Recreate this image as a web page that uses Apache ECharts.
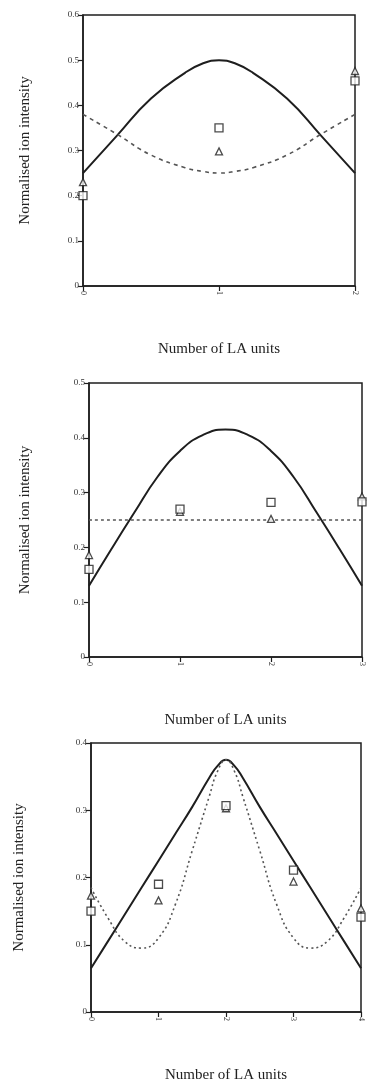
<!DOCTYPE html>
<html>
<head>
<meta charset="utf-8">
<script src="https://cdn.jsdelivr.net/npm/echarts@6/dist/echarts.min.js"></script>
<style>
  html, body { margin: 0; padding: 0; background: #fff; }
  #main { width: 367px; height: 1084px; }
</style>
</head>
<body>
<div id="main"></div>
<script>
// panel 1: 0..2 LA units
var curveX1 = [0, 0.25, 0.5, 0.75, 0.875, 1, 1.125, 1.25, 1.5, 1.75, 2];
var solid1 = [0.25, 0.333, 0.415, 0.472, 0.492, 0.5, 0.492, 0.472, 0.415, 0.333, 0.25];
var dashed1 = [0.38, 0.336, 0.29, 0.262, 0.254, 0.25, 0.254, 0.262, 0.29, 0.336, 0.38];
var units1 = [0, 1, 2];
var squares1 = [0.2, 0.35, 0.454];
var triangles1 = [0.23, 0.298, 0.476];

// panel 2: 0..3 LA units
var curveX2 = [0, 0.25, 0.5, 0.75, 1, 1.25, 1.5, 1.75, 2, 2.25, 2.5, 2.75, 3];
var solid2 = [0.13, 0.198, 0.264, 0.328, 0.376, 0.405, 0.415, 0.405, 0.376, 0.328, 0.264, 0.198, 0.13];
var dashedX2 = [0, 3];
var dashed2 = [0.25, 0.25];
var units2 = [0, 1, 2, 3];
var squares2 = [0.16, 0.27, 0.282, 0.283];
var triangles2 = [0.186, 0.265, 0.252, 0.293];

// panel 3: 0..4 LA units
var curveX3 = [0, 0.25, 0.5, 0.75, 1, 1.25, 1.5, 1.75, 1.875, 2, 2.125, 2.25, 2.5, 2.75, 3, 3.25, 3.5, 3.75, 4];
var solid3 = [0.065, 0.105, 0.145, 0.185, 0.225, 0.265, 0.305, 0.348, 0.366, 0.375, 0.366, 0.348, 0.305, 0.265, 0.225, 0.185, 0.145, 0.105, 0.065];
var dashed3 = [0.185, 0.14, 0.105, 0.095, 0.11, 0.16, 0.24, 0.32, 0.358, 0.375, 0.358, 0.32, 0.24, 0.16, 0.11, 0.095, 0.105, 0.14, 0.185];
var units3 = [0, 1, 2, 3, 4];
var squares3 = [0.15, 0.19, 0.307, 0.211, 0.141];
var triangles3 = [0.173, 0.166, 0.303, 0.194, 0.154];

var xTitle = 'Number of LA units';
var yTitle = 'Normalised ion intensity';

var ink = '#1e1e1e';
var font = '"Liberation Serif", "DejaVu Serif", serif';

function pairs(xs, ys) {
    return xs.map(function (x, i) { return [x, ys[i]]; });
}

var panels = [
    { grid: { left: 83, right: 12, top: 15, height: 271 }, xMax: 2, yMax: 0.6, yGap: 50,
      solid: pairs(curveX1, solid1), dashed: pairs(curveX1, dashed1),
      sq: pairs(units1, squares1), tri: pairs(units1, triangles1), dash: [4, 4] },
    { grid: { left: 89, right: 5, top: 383, height: 274 }, xMax: 3, yMax: 0.5, yGap: 56,
      solid: pairs(curveX2, solid2), dashed: pairs(dashedX2, dashed2),
      sq: pairs(units2, squares2), tri: pairs(units2, triangles2), dash: [3, 3] },
    { grid: { left: 91, right: 6, top: 743, height: 274 }, xMax: 4, yMax: 0.4, yGap: 64,
      solid: pairs(curveX3, solid3), dashed: pairs(curveX3, dashed3),
      sq: pairs(units3, squares3), tri: pairs(units3, triangles3), dash: [2, 3] }
];

var grids = [], xAxes = [], yAxes = [], series = [];
panels.forEach(function (p, i) {
    grids.push(Object.assign({ show: true, borderColor: ink, borderWidth: 1.5, backgroundColor: 'transparent' }, p.grid));
    xAxes.push({
        gridIndex: i, type: 'value', min: 0, max: p.xMax, interval: 1,
        name: xTitle, nameLocation: 'middle', nameGap: 56,
        nameTextStyle: { fontFamily: font, fontSize: 15, color: '#222' },
        axisLine: { lineStyle: { color: ink, width: 1.5 } },
        axisTick: { length: 5, lineStyle: { color: ink, width: 1.2 } },
        axisLabel: { rotate: -90, fontFamily: font, fontSize: 8, color: '#333', margin: 5 },
        splitLine: { show: false }
    });
    yAxes.push({
        gridIndex: i, type: 'value', min: 0, max: p.yMax, interval: 0.1,
        name: yTitle, nameLocation: 'middle', nameGap: p.yGap, nameRotate: 90,
        nameTextStyle: { fontFamily: font, fontSize: 15, color: '#222' },
        axisLine: { lineStyle: { color: ink, width: 1.5 } },
        axisTick: { length: 5, lineStyle: { color: ink, width: 1.2 } },
        axisLabel: { fontFamily: font, fontSize: 9, color: '#333', margin: 4 },
        splitLine: { show: false }
    });
    series.push({
        type: 'line', xAxisIndex: i, yAxisIndex: i, data: p.solid, smooth: 0.5,
        showSymbol: false, lineStyle: { color: ink, width: 2 }, silent: true
    });
    series.push({
        type: 'line', xAxisIndex: i, yAxisIndex: i, data: p.dashed, smooth: 0.5,
        showSymbol: false, lineStyle: { color: '#555', width: 1.6, type: p.dash }, silent: true
    });
    series.push({
        type: 'scatter', xAxisIndex: i, yAxisIndex: i, data: p.tri, symbol: 'triangle', symbolSize: 7,
        clip: false, itemStyle: { color: '#fff', borderColor: ink, borderWidth: 1.3 }, z: 3
    });
    series.push({
        type: 'scatter', xAxisIndex: i, yAxisIndex: i, data: p.sq, symbol: 'rect', symbolSize: 8,
        clip: false, itemStyle: { color: '#fff', borderColor: ink, borderWidth: 1.3 }, z: 4
    });
});

var myChart = echarts.init(document.getElementById('main'));
myChart.setOption({
    animation: false,
    grid: grids,
    xAxis: xAxes,
    yAxis: yAxes,
    series: series
});
</script>
</body>
</html>
